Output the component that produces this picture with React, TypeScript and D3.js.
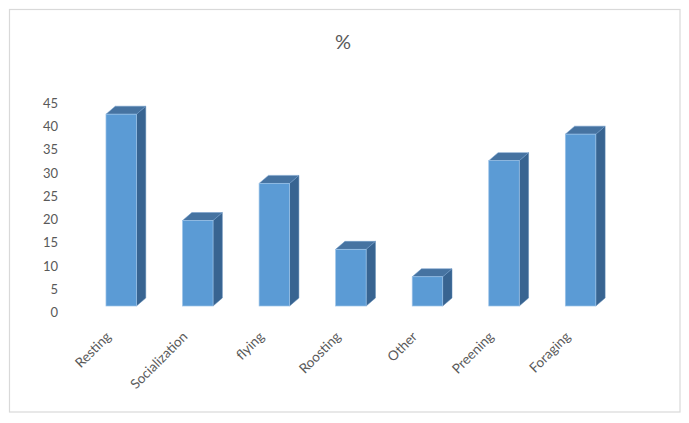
import React from "react";
import * as d3 from "d3";

// Share of observed time per behaviour, in percent
const categories = ["Resting", "Socialization", "flying", "Roosting", "Other", "Preening", "Foraging"];
const values = [41.3, 18.4, 26.4, 12.2, 6.3, 31.3, 37.0];
const yTicks = [0, 5, 10, 15, 20, 25, 30, 35, 40, 45];
const title = "%";

const W = 689;
const H = 423;
const FONT = "Lato, 'Open Sans', sans-serif";
const TEXT = "#595959";

// Oblique depth of the 3-D columns
const DX = 9.3;
const DY = 8;
// Front faces sit slightly above the axis labels' baseline
const FRONT_SHIFT = 6;

export default function App() {
  const x = d3
    .scaleBand<string>()
    .domain(categories)
    .range([67.7, 634.1])
    .paddingInner(0.6016)
    .paddingOuter(0.5);

  const y = d3.scaleLinear().domain([0, 45]).range([312, 103]);
  const bw = x.bandwidth();

  return (
    <svg
      width={W}
      height={H}
      style={{ position: "absolute", left: 0, top: 0, background: "#fff" }}
      fontFamily={FONT}
    >
      <rect x={9.5} y={9.5} width={670.5} height={402.5} fill="#fff" stroke="#d9d9d9" strokeWidth={1.2} />

      <text x={343} y={41} textAnchor="middle" dominantBaseline="central" fontSize={20} fill={TEXT}>
        {title}
      </text>

      {yTicks.map((t) => (
        <text
          key={t}
          x={58}
          y={y(t)}
          textAnchor="end"
          dominantBaseline="central"
          fontSize={13}
          fill={TEXT}
        >
          {t}
        </text>
      ))}

      {categories.map((c, i) => {
        const x0 = x(c)!;
        const x1 = x0 + bw;
        const yb = y(0) - FRONT_SHIFT;
        const yt = y(values[i]) - FRONT_SHIFT;
        const top = `${x0},${yt} ${x0 + DX},${yt - DY} ${x1 + DX},${yt - DY} ${x1},${yt}`;
        const side = `${x1},${yt} ${x1 + DX},${yt - DY} ${x1 + DX},${yb - DY} ${x1},${yb}`;
        return (
          <g key={c}>
            <polygon points={side} fill="#386491" stroke="#5a86b3" strokeWidth={0.5} />
            <polygon points={top} fill="#4673a1" stroke="#6f9acb" strokeWidth={0.5} />
            <rect x={x0} y={yt} width={bw} height={yb - yt} fill="#5b9bd5" stroke="#9cc3e8" strokeWidth={0.7} />
          </g>
        );
      })}

      {categories.map((c) => {
        const cx = x(c)! + bw / 2 - 13;
        const cy = 334;
        return (
          <text
            key={c}
            transform={`translate(${cx},${cy}) rotate(-45)`}
            textAnchor="end"
            dominantBaseline="central"
            fontSize={13.5}
            fill={TEXT}
          >
            {c}
          </text>
        );
      })}
    </svg>
  );
}
